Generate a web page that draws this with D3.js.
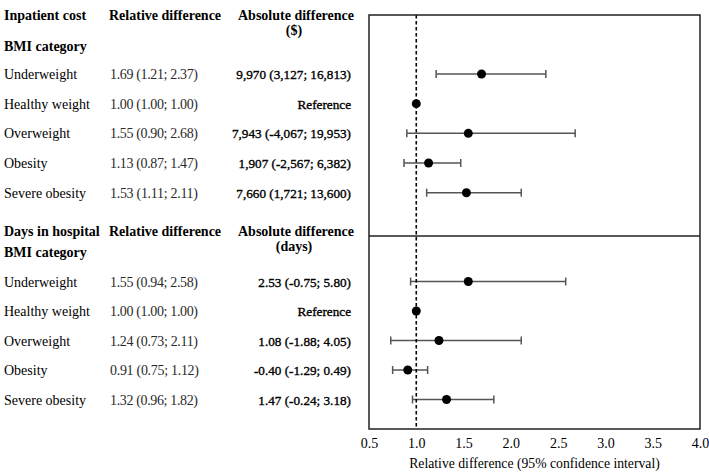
<!DOCTYPE html>
<html>
<head>
<meta charset="utf-8">
<script src="https://cdn.jsdelivr.net/npm/d3@7"></script>
<style>
  body { margin: 0; background: #fff; }
</style>
</head>
<body>
<svg id="chart" width="709" height="472" font-family="'Liberation Serif', 'DejaVu Serif', serif"></svg>
<script>
// BMI categories, same in both panels
var categories = ["Underweight", "Healthy weight", "Overweight", "Obesity", "Severe obesity"];

// inpatient cost
var costRel = [1.69, 1.00, 1.55, 1.13, 1.53];
var costLow = [1.21, 1.00, 0.90, 0.87, 1.11];
var costHigh = [2.37, 1.00, 2.68, 1.47, 2.11];
var costAbs = ["9,970 (3,127; 16,813)", "Reference", "7,943 (-4,067; 19,953)", "1,907 (-2,567; 6,382)", "7,660 (1,721; 13,600)"];

// days in hospital
var daysRel = [1.55, 1.00, 1.24, 0.91, 1.32];
var daysLow = [0.94, 1.00, 0.73, 0.75, 0.96];
var daysHigh = [2.58, 1.00, 2.11, 1.12, 1.82];
var daysAbs = ["2.53 (-0.75; 5.80)", "Reference", "1.08 (-1.88; 4.05)", "-0.40 (-1.29; 0.49)", "1.47 (-0.24; 3.18)"];

var xTicks = [0.5, 1.0, 1.5, 2.0, 2.5, 3.0, 3.5, 4.0];

var serif = "'Liberation Serif', 'DejaVu Serif', serif";
var svg = d3.select("#chart");

var x = d3.scaleLinear().domain([0.5, 4]).range([369, 700]);

var boxTop = 15, boxMid = 236, boxBottom = 429;

// row positions (index -> y)
var yTop = d3.scaleLinear().domain([0, 4]).range([74, 192.7]);
var yBot = d3.scaleLinear().domain([0, 4]).range([281.5, 399.5]);

function fmt(v){ return v.toFixed(2) }

function label(g, x0, y0, txt, bold, anchor){
	return g.append("text")
		.attr("x", x0).attr("y", y0)
		.attr("font-family", serif).attr("font-size", 14)
		.attr("font-weight", bold ? "bold" : "normal")
		.attr("text-anchor", anchor || "start")
		.attr("fill", "#000")
		.text(txt);
}

function panel(title, absTitle, absUnit, rel, low, high, abs, y, headY, bmiY, unitY){
	var g = svg.append("g");

	// headers
	label(g, 4, headY, title, true);
	label(g, 109, headY, "Relative difference", true);
	label(g, 296, headY, absTitle, true, "middle");
	label(g, 294, unitY, absUnit, true, "middle");
	label(g, 4, bmiY, "BMI category", true);

	var rows = g.selectAll("g.row")
		.data(categories)
	  .enter().append("g")
	  	.attr("class", "row")
	  	.attr("transform", function(d, i){ return "translate(0," + y(i) + ")" });

	rows.append("text")
		.attr("x", 4).attr("y", 5)
		.attr("font-family", serif).attr("font-size", 14).attr("fill", "#000")
		.text(function(d){ return d });
	rows.append("text")
		.attr("x", 110).attr("y", 5)
		.attr("font-family", serif).attr("font-size", 14).attr("fill", "#2a2a2a")
		.attr("textLength", function(d, i){ return rel[i] < 1 ? 89 : 88 })
		.text(function(d, i){ return fmt(rel[i]) + " (" + fmt(low[i]) + "; " + fmt(high[i]) + ")" });
	// absolute column is a bit heavier than the rest
	rows.append("text")
		.attr("x", 351).attr("y", 5)
		.attr("font-family", serif).attr("font-size", 13.2).attr("text-anchor", "end")
		.attr("fill", "#000").attr("stroke", "#000").attr("stroke-width", 0.35)
		.text(function(d, i){ return abs[i] });

	// error bars
	var bars = rows.filter(function(d, i){ return low[i] != high[i] });
	bars.append("line")
		.attr("x1", function(d){ return x(low[categories.indexOf(d)]) })
		.attr("x2", function(d){ return x(high[categories.indexOf(d)]) })
		.attr("y1", 0).attr("y2", 0)
		.attr("stroke", "#555").attr("stroke-width", 1.5);
	bars.append("line")
		.attr("x1", function(d){ return x(low[categories.indexOf(d)]) })
		.attr("x2", function(d){ return x(low[categories.indexOf(d)]) })
		.attr("y1", -4).attr("y2", 4)
		.attr("stroke", "#555").attr("stroke-width", 1.5);
	bars.append("line")
		.attr("x1", function(d){ return x(high[categories.indexOf(d)]) })
		.attr("x2", function(d){ return x(high[categories.indexOf(d)]) })
		.attr("y1", -4).attr("y2", 4)
		.attr("stroke", "#555").attr("stroke-width", 1.5);
	rows.append("circle")
		.attr("cx", function(d, i){ return x(rel[i]) })
		.attr("cy", 0).attr("r", 4.5)
		.attr("fill", "#000");
}

panel("Inpatient cost", "Absolute difference", "($)", costRel, costLow, costHigh, costAbs, yTop, 20, 51, 35);
panel("Days in hospital", "Absolute difference", "(days)", daysRel, daysLow, daysHigh, daysAbs, yBot, 236, 257, 251);

// reference line at 1
svg.append("line")
	.attr("x1", x(1)).attr("x2", x(1))
	.attr("y1", boxTop).attr("y2", boxBottom)
	.attr("stroke", "#000").attr("stroke-width", 1.6)
	.attr("stroke-dasharray", "3.5,2.5");

// frame
svg.append("rect")
	.attr("x", x(0.5)).attr("y", boxTop)
	.attr("width", x(4) - x(0.5)).attr("height", boxBottom - boxTop)
	.attr("fill", "none").attr("stroke", "#222").attr("stroke-width", 1.5);
svg.append("line")
	.attr("x1", x(0.5)).attr("x2", x(4))
	.attr("y1", boxMid).attr("y2", boxMid)
	.attr("stroke", "#222").attr("stroke-width", 1.5);

// x axis
var axis = svg.append("g")
	.attr("transform", "translate(0," + boxBottom + ")")
	.call(d3.axisBottom(x).tickValues(xTicks).tickSize(0).tickPadding(9).tickFormat(d3.format(".1f")));
axis.attr("font-family", serif).attr("font-size", 14);
axis.select(".domain").remove();
axis.selectAll("text").attr("fill", "#000");

label(svg, (x(0.5) + x(4)) / 2, 468, "Relative difference (95% confidence interval)", false, "middle")
	.attr("font-size", 13.7);
</script>
</body>
</html>
